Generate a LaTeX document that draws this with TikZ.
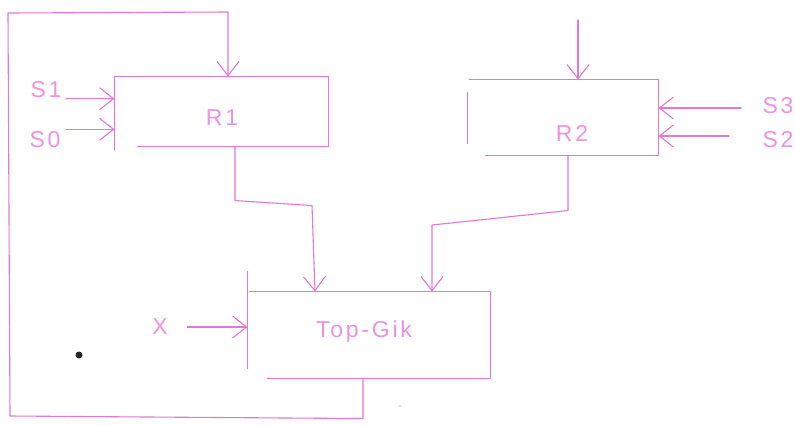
\documentclass[tikz,border=0pt]{standalone}
\usepackage{fontspec}
\newfontfamily\hand[LetterSpace=12]{Liberation Sans}
\usetikzlibrary{arrows.meta,calc}
\definecolor{ink}{RGB}{228,118,212}
\definecolor{inktext}{RGB}{238,146,224}
\begin{document}
\begin{tikzpicture}[x=1pt,y=-1pt,
  line width=1.1pt, draw=ink,
  ln/.style={draw=ink,line width=1.1pt,line cap=round,line join=round},
  arr/.style={ln,-{Straight Barb[length=14pt,width=22pt,line width=1.1pt]}},
  box/.style={draw=none,inner sep=0pt,minimum width=#1},
  txt/.style={text=inktext,font=\hand\fontsize{23}{26}\selectfont,inner sep=1pt}]
\useasboundingbox[fill=white] (0,0) rectangle (795,424);
% boxes (named, sides drawn sketchily below)
\node[box=213pt,minimum height=69pt] (r1) at (221.5,111.5) {};
\node[box=190pt,minimum height=75pt] (r2) at (563,117.5) {};
\node[box=242pt,minimum height=86pt] (tg) at (369,335) {};
% box sides
\draw[ln] (r1.north west) -- (r1.north east) -- (r1.south east) -- ([xshift=23pt]r1.south west);
\draw[ln] (r1.north west) -- ([yshift=-3pt]r1.south west);
\draw[ln] ([xshift=2pt]r2.north west) -- (r2.north east) -- (r2.south east) -- ([xshift=18pt]r2.south west);
\draw[ln] ([yshift=-13pt]r2.north west) -- ([yshift=12pt]r2.south west);
\draw[ln] ([xshift=2pt]tg.north west) -- (tg.north east) -- (tg.south east) -- ([xshift=20pt]tg.south west);
\draw[ln] ([yshift=20pt]tg.north west) -- ([yshift=10pt]tg.south west);
% texts
\node[txt] (r1t) at (222,118) {R1};
\node[txt] (r2t) at (572,133) {R2};
\node[txt] (tgt) at (364,332) {Top-Gik};
\node[txt] (s1) at (46,90) {S1};
\node[txt] (s0) at (45,140) {S0};
\node[txt] (s3) at (778,106) {S3};
\node[txt] (s2) at (778,140) {S2};
\node[txt] (x) at (160,327) {X};
% inputs
\coordinate (s1o) at ([xshift=3pt,yshift=1pt]s1.south east);
\coordinate (s0o) at ([xshift=4pt,yshift=1pt]s0.north east);
\coordinate (s3o) at ([xshift=-20pt,yshift=-2pt]s3.west);
\coordinate (s2o) at ([xshift=-32pt,yshift=4pt]s2.west);
\coordinate (xo) at ([xshift=18pt]x.east);
\draw[arr] (s1o) -- (s1o -| r1.west);
\draw[arr] (s0o) -- (s0o -| r1.west);
\draw[arr] (s3o) -- (s3o -| r2.east);
\draw[arr] (s2o) -- (s2o -| r2.east);
\draw[arr] (xo) -- (xo -| tg.west);
\coordinate (r2in) at (578,20);
\draw[arr] (r2in) -- (r2in |- r2.north);
% R1 -> Top-Gik, R2 -> Top-Gik
\draw[arr] ([xshift=13.5pt]r1.south) -- ++(0,54) -- ++(77,5) -- ([xshift=-54pt]tg.north);
\draw[arr] ([xshift=5pt]r2.south) -- ++(0,55) -- (432,225) -- ([xshift=63pt]tg.north);
% feedback loop
\draw[arr] ([xshift=-6pt]tg.south) -- ++(0,40) -- (10,416) -- (8,13) -- (228,12) -- ([xshift=6.5pt]r1.north);
% marks
\fill[black!85] (79,355) circle (3.5pt);
\fill[black!25] (400,406) circle (0.8pt);
\end{tikzpicture}
\end{document}
